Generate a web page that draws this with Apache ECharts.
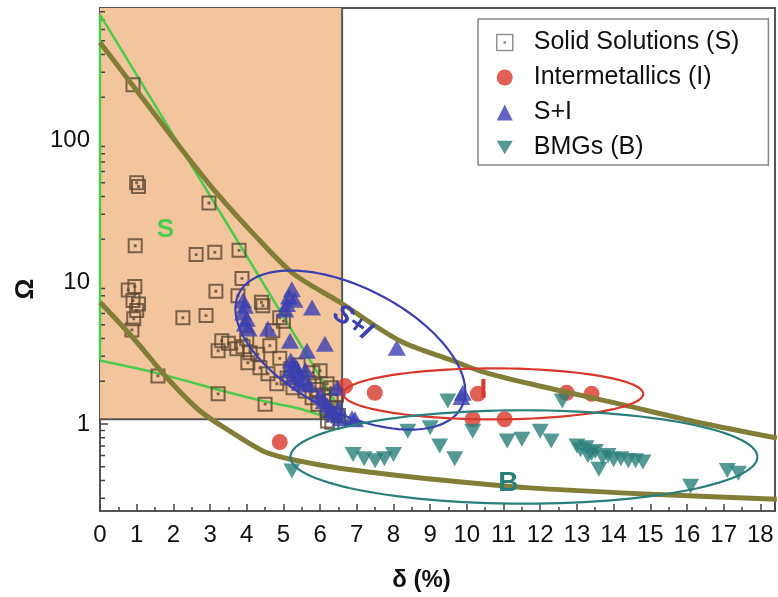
<!DOCTYPE html>
<html><head><meta charset="utf-8">
<script src="https://cdn.jsdelivr.net/npm/echarts@6/dist/echarts.min.js"></script>
<style>html,body{margin:0;padding:0;background:#fff}#c{width:778px;height:597px}</style>
</head><body><div id="c"></div>
<script>
// ---- axis ranges / ticks ----
const X_MIN = 0, X_MAX = 18.4;
const Y_MIN = 0.244, Y_MAX = 850;
const yMajorLabels = [1, 10, 100];
const yMinorTicks = [0.3,0.4,0.5,0.6,0.7,0.8,0.9,2,3,4,5,6,7,8,9,20,30,40,50,60,70,80,90,200,300,400,500,600,700,800];

// ---- series data [delta, Omega] ----
const solidSolutions = [
  [0.9,245],[1.0,50],[1.05,47],[2.97,36],[0.96,18],[2.62,15.6],[3.13,16.2],[3.79,16.7],
  [3.87,10.6],[3.16,8.6],[0.95,9.3],[0.77,8.8],[3.76,8.0],[2.26,5.6],[2.89,5.8],[4.44,6.8],
  [0.9,7.4],[1.0,6.3],[0.92,5.5],[0.87,4.6],[1.05,7.0],[3.32,3.86],[3.22,3.28],[3.73,3.39],
  [4.0,3.98],[4.09,3.18],[4.03,2.70],[4.36,2.49],[4.63,3.56],[4.71,4.54],[4.9,5.6],[4.58,2.26],
  [4.82,1.92],[5.1,2.11],[5.26,1.80],[5.59,1.71],[5.78,1.53],[5.94,1.38],[6.19,1.24],[6.32,1.03],
  [6.0,2.37],[6.19,1.92],[3.22,1.63],[4.5,1.38],[1.58,2.18],[5.0,5.3],[4.4,7.2],[4.3,3.1],
  [4.9,2.9],[5.4,2.6],[5.5,2.1],[5.7,1.95],[5.9,1.75],[6.1,1.6],[6.3,1.45],[6.4,1.3],
  [6.5,1.15],[6.2,1.05],[3.5,3.7],[3.9,3.5],[5.2,2.45],[5.8,2.3],[6.3,1.8],[6.45,1.6]
];
const intermetallics = [
  [4.9,0.746],[6.68,1.85],[7.49,1.66],[10.3,1.63],[10.16,1.08],[11.03,1.08],[12.72,1.66],[13.4,1.63]
];
const solidPlusInter = [
  [3.9,7.4],[3.95,6.8],[3.9,6.1],[4.0,5.5],[3.95,5.1],[4.05,4.7],
  [5.23,8.9],[5.15,7.9],[5.1,7.0],[5.3,7.5],[5.05,6.4],
  [5.78,6.6],[4.58,4.7],[5.18,3.86],[6.13,3.67],[5.64,3.28],[8.09,3.44],
  [5.2,2.8],[5.3,2.6],[5.15,2.4],[5.4,2.3],[5.25,2.15],[5.5,2.05],[5.6,2.4],[5.45,1.95],[5.7,1.9],[5.35,2.5],
  [6.0,1.6],[6.1,1.45],[6.2,1.35],[6.3,1.25],[6.4,1.17],[6.5,1.3],[6.47,1.8],[6.55,1.1],
  [6.87,1.10],[6.95,1.08],[9.89,1.66],[9.85,1.55]
];
const bmgs = [
  [5.23,0.466],[9.48,1.45],[8.39,0.89],[9.0,0.94],[9.26,0.70],[9.67,0.57],[10.16,0.89],
  [6.9,0.61],[7.2,0.57],[7.5,0.55],[7.75,0.57],[8.0,0.61],[11.1,0.76],[11.5,0.78],[12.0,0.89],
  [12.3,0.76],[12.6,1.45],[13.0,0.70],[13.1,0.66],[13.25,0.68],[13.4,0.62],[13.5,0.64],[13.6,0.48],
  [13.7,0.58],[13.85,0.60],[14.0,0.56],[14.2,0.57],[14.4,0.55],[14.6,0.55],[14.8,0.54],[13.3,0.6],
  [16.1,0.365],[17.1,0.47],[17.4,0.45]
];

// ---- guide curves ----
const upperCurve = [[0,485],[0.9,241],[2.18,89],[3.19,42],[4.17,22],[5.26,11.5],[6.54,7.2],[8.17,3.86],
  [9.62,2.79],[10.35,2.37],[11.72,1.92],[14.17,1.38],[16.35,1.02],[18.45,0.796]];
const lowerCurve = [[0,7.2],[0.9,4.05],[1.83,2.11],[2.72,1.24],[3.54,0.89],[4.44,0.645],[5.0,0.58],
  [6.0,0.515],[7.0,0.47],[9.0,0.41],[11.7,0.355],[15.07,0.32],[18.45,0.295]];
const greenUpper = [[0,2.8],[0,764],[6.8,0.98]];
const greenLower = [[0,2.8],[1.5,2.3],[3.3,1.72],[4.45,1.45],[5.5,1.27],[6.8,0.98]];

// ---- region box [xLeft, yBottom, xRight] ----
const solidRegion = [[0, 1.08, 6.6]];

// ---- ellipses: major-axis endpoints [x1,y1,x2,y2] ----
const ellipseSI = [[3.79,8.33,9.86,1.32]];
const ellipseI = [[6.63,1.63,14.81,1.63]];
const ellipseB = [[5.19,0.586,17.92,0.586]];

// ---- annotation labels ----
const annoText = ['S','S+I','I','B'];
const annoPos = [[1.78,23.2],[6.88,5.2],[10.45,1.74],[11.13,0.384]];

const FONT = 'Liberation Sans, Arial, Helvetica, sans-serif';
const C_OLIVE = '#827e38', C_GREEN = '#4ccb4c', C_BLUE = '#3b3fb2', C_RED = '#d8382c', C_TEAL = '#2a7f7b';
const SQUARE = 'path://M0,0H12V12H0Z M5.6,5.6H6.4V6.4H5.6Z';
const DOWN_TRIANGLE = 'path://M0,0L12,0L6,10Z';
const annoStyle = [
  {fill:C_GREEN, fontSize:26, fontWeight:'bold', fontStyle:'normal', rot:0},
  {fill:C_BLUE, fontSize:27, fontWeight:'bold', fontStyle:'italic', rot:-0.62},
  {fill:C_RED, fontSize:28, fontWeight:'bold', fontStyle:'normal', rot:0},
  {fill:C_TEAL, fontSize:28, fontWeight:'bold', fontStyle:'normal', rot:0}
];

function ellipseRender(ratio, color, width){
  return function(params, api){
    const p1 = api.coord([api.value(0), api.value(1)]);
    const p2 = api.coord([api.value(2), api.value(3)]);
    const cx=(p1[0]+p2[0])/2, cy=(p1[1]+p2[1])/2;
    const dx=p2[0]-p1[0], dy=p2[1]-p1[1];
    const a=Math.hypot(dx,dy)/2, b=a*ratio, th=Math.atan2(dy,dx);
    const pts=[];
    for(let i=0;i<=120;i++){
      const t=i/120*2*Math.PI, u=a*Math.cos(t), v=b*Math.sin(t);
      pts.push([cx+u*Math.cos(th)-v*Math.sin(th), cy+u*Math.sin(th)+v*Math.cos(th)]);
    }
    return {type:'polyline', shape:{points:pts}, style:{stroke:color, lineWidth:width, fill:null}};
  };
}

const chart = echarts.init(document.getElementById('c'), null, {renderer:'canvas'});
const option = {
  animation:false,
  backgroundColor:'#fff',
  grid:{left:100, right:3, top:8, bottom:86, show:true, borderColor:'#555', borderWidth:2, backgroundColor:'transparent'},
  legend:{
    orient:'vertical', left:478, top:19,
    padding:[11, 29, 5, 18], itemGap:10, itemWidth:16, itemHeight:16,
    borderColor:'#888', borderWidth:1.5, backgroundColor:'#fff',
    textStyle:{fontSize:25, color:'#111', fontFamily:FONT, padding:[0,0,0,16]},
    data:[
      {name:'Solid Solutions (S)', icon:SQUARE, itemStyle:{color:'rgba(0,0,0,0)', borderColor:'#777', borderWidth:1.5}},
      {name:'Intermetallics (I)'},
      {name:'S+I'},
      {name:'BMGs (B)', icon:DOWN_TRIANGLE}
    ]
  },
  xAxis:{
    type:'value', min:X_MIN, max:X_MAX, interval:1,
    name:'δ (%)', nameLocation:'middle', nameGap:57,
    nameTextStyle:{fontSize:24, fontWeight:'bold', color:'#111', fontFamily:FONT, padding:[0,32,0,0]},
    axisLine:{show:true, lineStyle:{color:'#555', width:2}},
    axisTick:{show:true, inside:true, length:7, lineStyle:{color:'#444', width:1.5}},
    minorTick:{show:true, splitNumber:2, length:4, lineStyle:{color:'#444', width:1.5}},
    splitLine:{show:false},
    axisLabel:{fontSize:24, color:'#111', fontFamily:FONT, margin:12, showMaxLabel:false,
      formatter:v=> (Math.abs(v-Math.round(v))<1e-6 ? String(Math.round(v)) : '')}
  },
  yAxis:{
    type:'log', logBase:10, min:Y_MIN, max:Y_MAX,
    name:'Ω', nameLocation:'middle', nameGap:61,
    nameTextStyle:{fontSize:26, fontWeight:'bold', color:'#111', fontFamily:FONT, padding:[0,59,0,0]},
    axisLine:{show:true, lineStyle:{color:'#555', width:2}},
    axisTick:{show:true, inside:true, length:8, lineStyle:{color:'#444', width:1.5}},
    splitLine:{show:false},
    axisLabel:{fontSize:24, color:'#111', fontFamily:FONT, margin:10, showMinLabel:false, showMaxLabel:false,
      formatter:v=>{ const l=Math.log10(v); const r=Math.round(l); if(Math.abs(l-r)<1e-6 && yMajorLabels.indexOf(Math.pow(10,r))>=0) return String(Math.round(Math.pow(10,r))); return ''; }}
  },
  series:[
    {type:'custom', name:'region', z:1, silent:true, data:solidRegion, encode:{x:[0,2], y:1},
     renderItem:(params, api)=>{
       const tl = api.coord([api.value(0), Y_MAX]);
       const br = api.coord([api.value(2), api.value(1)]);
       return {type:'group', children:[
         {type:'rect', shape:{x:tl[0], y:tl[1], width:br[0]-tl[0], height:br[1]-tl[1]}, style:{fill:'#f2c59c'}},
         {type:'polyline', shape:{points:[[br[0],tl[1]],[br[0],br[1]],[tl[0],br[1]]]}, style:{stroke:'#555', lineWidth:2, fill:null}}
       ]};
     }},
    {type:'custom', name:'minorTicks', z:2, silent:true, data:yMinorTicks.map(v=>[X_MIN, v]),
     renderItem:(params, api)=>{
       const p = api.coord([api.value(0), api.value(1)]);
       return {type:'line', shape:{x1:p[0], y1:p[1], x2:p[0]+5, y2:p[1]}, style:{stroke:'#444', lineWidth:1.5}};
     }},
    {type:'line', name:'greenUpper', z:3, data:greenUpper, symbol:'none', clip:false, silent:true,
     lineStyle:{color:C_GREEN, width:2.5}},
    {type:'line', name:'greenLower', z:3, data:greenLower, symbol:'none', smooth:0.3, clip:false, silent:true,
     lineStyle:{color:C_GREEN, width:2.5}},
    {type:'scatter', name:'Solid Solutions (S)', z:4, data:solidSolutions, symbol:SQUARE, symbolSize:13,
     itemStyle:{color:'rgba(0,0,0,0)', borderColor:'#5b4733', borderWidth:2}},
    {type:'scatter', name:'Intermetallics (I)', z:5, data:intermetallics, symbol:'circle', symbolSize:16,
     itemStyle:{color:C_RED}},
    {type:'scatter', name:'S+I', z:5, data:solidPlusInter, symbol:'triangle', symbolSize:[18,16],
     itemStyle:{color:C_BLUE}},
    {type:'scatter', name:'BMGs (B)', z:5, data:bmgs, symbol:'triangle', symbolRotate:180, symbolSize:[17,15],
     itemStyle:{color:C_TEAL}},
    {type:'line', name:'upperCurve', z:6, data:upperCurve, symbol:'none', smooth:0.3, silent:true,
     lineStyle:{color:C_OLIVE, width:5}},
    {type:'line', name:'lowerCurve', z:6, data:lowerCurve, symbol:'none', smooth:0.3, silent:true,
     lineStyle:{color:C_OLIVE, width:5}},
    {type:'custom', name:'ellipseSI', z:7, silent:true, data:ellipseSI, encode:{x:[0,2], y:[1,3]},
     renderItem:ellipseRender(0.5, C_BLUE, 2.2)},
    {type:'custom', name:'ellipseI', z:7, silent:true, data:ellipseI, encode:{x:[0,2], y:[1,3]},
     renderItem:ellipseRender(0.17, C_RED, 2.2)},
    {type:'custom', name:'ellipseB', z:7, silent:true, data:ellipseB, encode:{x:[0,2], y:[1,3]},
     renderItem:ellipseRender(0.2, C_TEAL, 2.2)},
    {type:'custom', name:'labels', z:8, silent:true, data:annoPos,
     renderItem:(params, api)=>{
       const i = params.dataIndex;
       const p = api.coord([api.value(0), api.value(1)]);
       const s = annoStyle[i];
       return {type:'text', x:p[0], y:p[1], rotation:s.rot,
         style:{text:annoText[i], fill:s.fill, fontSize:s.fontSize, fontWeight:s.fontWeight, fontStyle:s.fontStyle,
           fontFamily:FONT, align:'center', verticalAlign:'middle'}};
     }}
  ]
};
chart.setOption(option);
</script></body></html>
